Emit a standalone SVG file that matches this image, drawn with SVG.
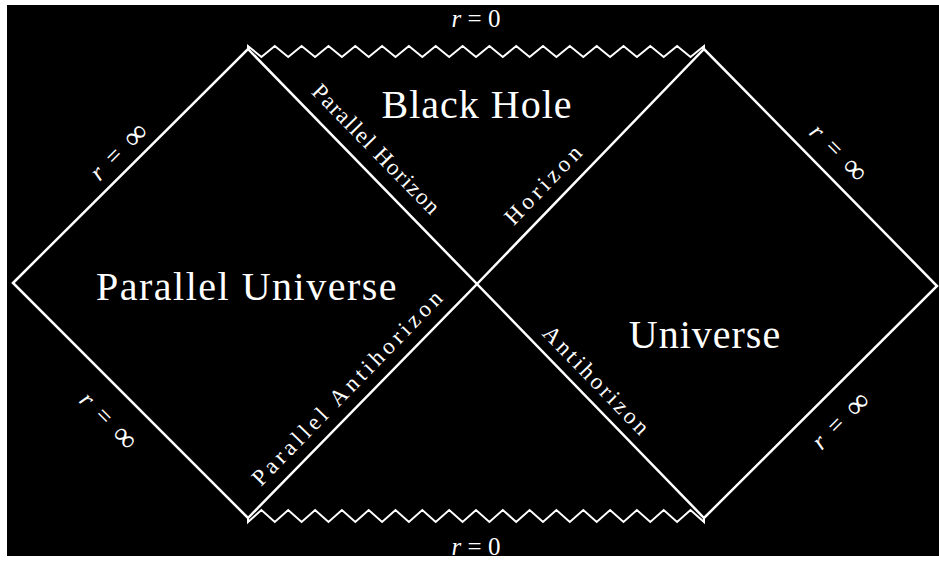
<svg xmlns="http://www.w3.org/2000/svg" width="939" height="562" viewBox="0 0 939 562">
<style>
.bg{fill:#000}
.ln{fill:none;stroke:#fff;stroke-width:2.5;stroke-linejoin:miter}
.zz{fill:none;stroke:#fff;stroke-width:2;stroke-linejoin:miter}
.big{font-family:"Liberation Serif","Times New Roman",serif;font-size:40px;fill:#fff;text-anchor:middle}
.lab{font-family:"Liberation Serif","Times New Roman",serif;font-size:23px;fill:#fff;text-anchor:middle;dominant-baseline:central}
.r{font-family:"Liberation Serif","Times New Roman",serif;font-size:25px;fill:#fff;text-anchor:middle;dominant-baseline:central}
.it{font-style:italic}
.inf{font-size:32px}
</style>
<rect x="0" y="0" width="939" height="562" fill="#fff"/>
<rect class="bg" x="7" y="5" width="932" height="551"/>
<g id="connectors">
<path class="ln" d="M13,283 L248,49 L477,284 L248,518 Z"/>
<path class="ln" d="M477,284 L704,49 L937,286 L704,518 Z"/>
<path class="zz" d="M248,49 L248,46 L261.4,57 L274.8,46 L288.2,57 L301.6,46 L315.1,57 L328.5,46 L341.9,57 L355.3,46 L368.7,57 L382.1,46 L395.5,57 L408.9,46 L422.3,57 L435.7,46 L449.2,57 L462.6,46 L476,57 L489.4,46 L502.8,57 L516.2,46 L529.6,57 L543,46 L556.4,57 L569.8,46 L583.3,57 L596.7,46 L610.1,57 L623.5,46 L636.9,57 L650.3,46 L663.7,57 L677.1,46 L690.5,57 L704,46 L704,49"/>
<path class="zz" d="M248,518 L248,522 L261.4,510 L274.8,522 L288.2,510 L301.6,522 L315.1,510 L328.5,522 L341.9,510 L355.3,522 L368.7,510 L382.1,522 L395.5,510 L408.9,522 L422.3,510 L435.7,522 L449.2,510 L462.6,522 L476,510 L489.4,522 L502.8,510 L516.2,522 L529.6,510 L543,522 L556.4,510 L569.8,522 L583.3,510 L596.7,522 L610.1,510 L623.5,522 L636.9,510 L650.3,522 L663.7,510 L677.1,522 L690.5,510 L704,522 L704,518"/>
<text class="lab" transform="translate(376,149) rotate(45.7)" textLength="172" lengthAdjust="spacing">Parallel Horizon</text>
<text class="lab" transform="translate(543,185) rotate(-46)" textLength="100" lengthAdjust="spacing">Horizon</text>
<text class="lab" transform="translate(347,388) rotate(-45.7)" textLength="262" lengthAdjust="spacing">Parallel Antihorizon</text>
<text class="lab" transform="translate(596,380) rotate(45.9)" textLength="142" lengthAdjust="spacing">Antihorizon</text>
<text class="r" transform="translate(118,151) rotate(-45)" textLength="70" lengthAdjust="spacing"><tspan class="it">r</tspan> = <tspan class="inf">∞</tspan></text>
<text class="r" transform="translate(839,152) rotate(45)" textLength="70" lengthAdjust="spacing"><tspan class="it">r</tspan> = <tspan class="inf">∞</tspan></text>
<text class="r" transform="translate(109,420) rotate(45)" textLength="70" lengthAdjust="spacing"><tspan class="it">r</tspan> = <tspan class="inf">∞</tspan></text>
<text class="r" transform="translate(840,420) rotate(-45)" textLength="70" lengthAdjust="spacing"><tspan class="it">r</tspan> = <tspan class="inf">∞</tspan></text>
<text class="r" x="476" y="18"><tspan class="it">r</tspan> = 0</text>
<text class="r" x="476" y="546"><tspan class="it">r</tspan> = 0</text>
</g>
<g id="black-hole"><text class="big" x="477" y="118" letter-spacing="1">Black Hole</text></g>
<g id="parallel-universe"><text class="big" x="247" y="300" letter-spacing="1.5">Parallel Universe</text></g>
<g id="universe"><text class="big" x="705" y="348" letter-spacing="1">Universe</text></g>
</svg>
